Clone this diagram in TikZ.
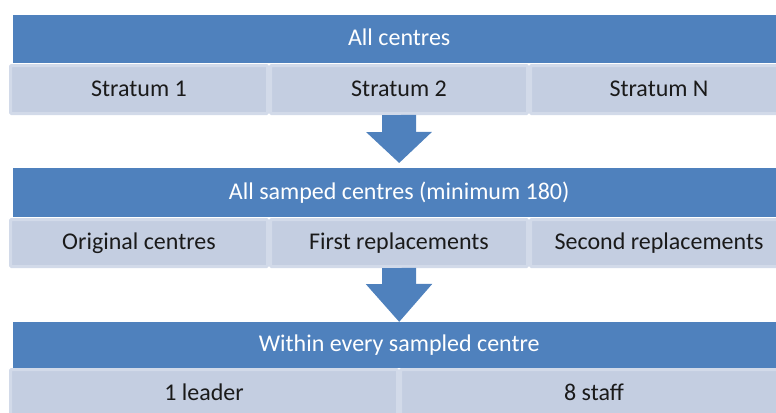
\documentclass[tikz,border=0pt]{standalone}
\usepackage{fontspec}
\setmainfont{Carlito}
\usepackage{tikz}
\usetikzlibrary{arrows.meta, positioning}

\definecolor{barblue}{HTML}{4F81BD}
\definecolor{cellblue}{HTML}{C4CEE1}
\definecolor{celledge}{HTML}{D2DAE9}
\definecolor{celltext}{HTML}{1A1A1A}

\begin{document}
\begin{tikzpicture}[x=1bp, y=-1bp,
        txt/.style={font=\fontsize{24bp}{28bp}\selectfont, text height=17bp, text depth=4bp},
        bar/.style={txt, fill=barblue, text=white, inner sep=0pt, minimum width=772bp, anchor=north west},
        cell/.style={txt, fill=cellblue, draw=celledge, line width=3bp, rounded corners=1bp, text=celltext, inner sep=0pt, minimum width=257bp, minimum height=47bp, anchor=north west},
        half/.style={cell, minimum width=387bp},
        flow/.style={-{Triangle[width=64bp 0 0, length=#1 0 0]}, draw=barblue, line width=34bp}]
        \useasboundingbox (0,0) rectangle (776,412);

        % stage 1
        \node (all) [bar, minimum height=48bp] at (13,15) {All centres};
        \node (st1) [cell, minimum height=48bp] at (9,64) {Stratum 1};
        \node (st2) [cell, minimum height=48bp, right=0pt of st1] {Stratum 2};
        \node (stN) [cell, minimum height=48bp, right=0pt of st2] {Stratum N};

        % stage 2
        \node (samp) [bar, minimum height=49bp] at (13,168) {All samped centres (minimum 180)};
        \node (orig) [cell] at (9,218) {Original centres};
        \node (rep1) [cell, right=0pt of orig] {First replacements};
        \node (rep2) [cell, right=0pt of rep1] {Second replacements};

        % stage 3
        \node (within) [bar, minimum height=46bp] at (13,322) {Within every sampled centre};
        \node (lead) [half, minimum height=48bp] at (9,368) {1 leader};
        \node (staff) [half, minimum height=48bp, right=0pt of lead] {8 staff};

        \draw [flow=31bp, shorten >=5bp] (st2.south) -- (samp.north);
        \draw [flow=38bp] (rep1.south) -- (within.north);
\end{tikzpicture}
\end{document}
